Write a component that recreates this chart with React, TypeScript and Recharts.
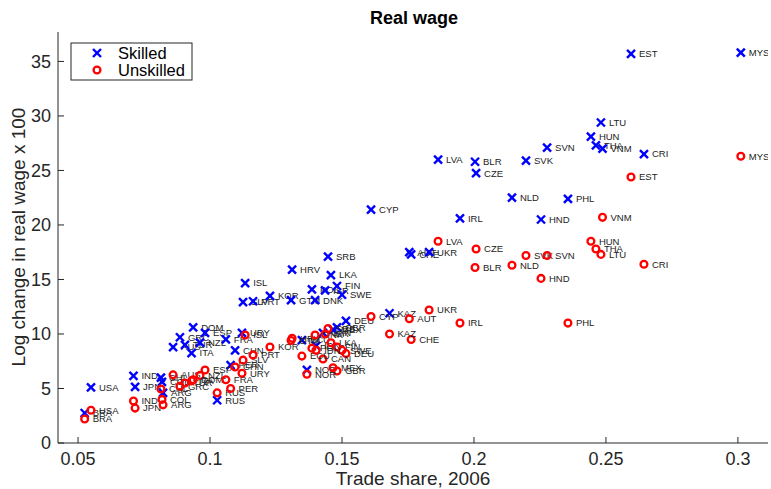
import { ScatterChart, Scatter, XAxis, YAxis, Customized } from "recharts";

const countries = [
  "USA", "BRA", "IND", "JPN", "CHL", "COL", "ARG", "AUS", "GRC", "TUR",
  "NZL", "DOM", "ITA", "ESP", "FRA", "RUS", "PER", "CHN", "URY", "ISL",
  "SLV", "PRT", "KOR", "GTM", "HRV", "DNK", "POL", "ISR", "SRB", "LKA",
  "FIN", "SWE", "DEU", "CAN", "MEX", "GBR", "ECU", "IDN", "NOR", "AUT",
  "CHE", "CYP", "KAZ", "UKR", "LVA", "BLR", "CZE", "IRL", "NLD", "SVK",
  "HND", "SVN", "PHL", "HUN", "THA", "LTU", "VNM", "EST", "CRI", "MYS",
];

const tradeShare = [
  0.0549, 0.0525, 0.071, 0.0716, 0.0814, 0.0818, 0.0822, 0.086, 0.0886, 0.0905,
  0.0962, 0.0936, 0.093, 0.0981, 0.106, 0.1027, 0.1078, 0.1095, 0.1121, 0.1133,
  0.1125, 0.1163, 0.1227, 0.1307, 0.1311, 0.1398, 0.1386, 0.1436, 0.1447, 0.1458,
  0.1481, 0.15, 0.1515, 0.1428, 0.1466, 0.1481, 0.1348, 0.1402, 0.1367, 0.1755,
  0.1762, 0.161, 0.168, 0.183, 0.1864, 0.2004, 0.2008, 0.1947, 0.2144, 0.2197,
  0.2254, 0.2277, 0.2356, 0.2443, 0.2462, 0.2481, 0.2487, 0.2595, 0.2644, 0.3011,
];

const skilledWage = [
  5.1, 2.75, 6.15, 5.15, 6.0, 5.6, 4.6, 8.8, 9.7, 9.0,
  9.2, 10.6, 8.25, 10.1, 9.5, 3.92, 7.15, 8.5, 10.1, 14.67,
  12.92, 13.0, 13.5, 13.1, 15.9, 13.1, 14.1, 14.0, 17.1, 15.4,
  14.4, 13.6, 11.2, 10.1, 10.4, 10.6, 9.44, 8.9, 6.7, 17.5,
  17.3, 21.4, 11.9, 17.5, 26.0, 25.8, 24.75, 20.6, 22.5, 25.9,
  20.5, 27.1, 22.4, 28.1, 27.3, 29.4, 27.0, 35.7, 26.5, 35.8,
];

const unskilledWage = [
  3.0, 2.2, 3.85, 3.2, 4.95, 4.0, 3.5, 6.25, 5.2, 5.5,
  6.2, 5.8, 5.7, 6.7, 5.8, 4.6, 5.0, 6.97, 6.4, 9.9,
  7.6, 8.07, 8.8, 9.4, 9.6, 9.9, 8.7, 10.0, 10.5, 9.2,
  8.8, 8.5, 8.2, 7.7, 6.9, 6.6, 7.97, 8.5, 6.3, 11.4,
  9.5, 11.6, 10.0, 12.2, 18.5, 16.1, 17.8, 11.0, 16.3, 17.2,
  15.1, 17.2, 11.0, 18.5, 17.8, 17.3, 20.7, 24.4, 16.4, 26.3,
];

const xTicks = [0.05, 0.1, 0.15, 0.2, 0.25, 0.3];
const yTicks = [0, 5, 10, 15, 20, 25, 30, 35];

const FONT = '"Liberation Sans", Arial, Helvetica, sans-serif';
const AXIS = "#262626";

const skilled = countries.map((code, i) => ({ code, share: tradeShare[i], wage: skilledWage[i] }));
const unskilled = countries.map((code, i) => ({ code, share: tradeShare[i], wage: unskilledWage[i] }));

function Cross({ cx, cy }: any) {
  const d = 4;
  return (
    <g stroke="#0000ff" strokeWidth={2.4}>
      <line x1={cx - d} y1={cy - d} x2={cx + d} y2={cy + d} />
      <line x1={cx - d} y1={cy + d} x2={cx + d} y2={cy - d} />
    </g>
  );
}

function Ring({ cx, cy }: any) {
  return <circle cx={cx} cy={cy} r={3.4} fill="none" stroke="#ff0000" strokeWidth={2.3} />;
}

function PointLabel({ cx, cy, text }: any) {
  return (
    <text x={cx + 8} y={cy} dy="0.35em" fontSize={9.5} fill="#222" fontFamily={FONT}>
      {text}
    </text>
  );
}

const skilledShape = (p: any) => (
  <g>
    <Cross cx={p.cx} cy={p.cy} />
    <PointLabel cx={p.cx} cy={p.cy} text={p.payload.code} />
  </g>
);

const unskilledShape = (p: any) => (
  <g>
    <Ring cx={p.cx} cy={p.cy} />
    <PointLabel cx={p.cx} cy={p.cy} text={p.payload.code} />
  </g>
);

function XTick({ x, y, payload }: any) {
  return (
    <g>
      <line x1={x} y1={y} x2={x} y2={y - 6} stroke={AXIS} />
      <text x={x} y={y + 22} textAnchor="middle" fontSize={18} fill={AXIS} fontFamily={FONT}>
        {payload.value}
      </text>
    </g>
  );
}

function YTick({ x, y, payload }: any) {
  return (
    <g>
      <line x1={x} y1={y} x2={x + 6} y2={y} stroke={AXIS} />
      <text x={x - 7} y={y} dy="0.35em" textAnchor="end" fontSize={18} fill={AXIS} fontFamily={FONT}>
        {payload.value}
      </text>
    </g>
  );
}

function Overlay() {
  return (
    <g fontFamily={FONT}>
      <text x={414} y={24} textAnchor="middle" fontSize={18} fontWeight="bold" fill="#000">
        Real wage
      </text>
      <text
        x={18}
        y={237}
        transform="rotate(-90, 18, 237)"
        textAnchor="middle"
        dy="0.35em"
        fontSize={19}
        fill={AXIS}
      >
        Log change in real wage x 100
      </text>
      <text x={413} y={485} textAnchor="middle" fontSize={19} fill={AXIS}>
        Trade share, 2006
      </text>
      <rect x={71} y={43} width={121} height={37} fill="#fff" stroke={AXIS} strokeWidth={1} />
      <Cross cx={97} cy={53} />
      <text x={118} y={53} dy="0.35em" fontSize={16.5} fill="#000">
        Skilled
      </text>
      <Ring cx={97} cy={70} />
      <text x={118} y={70} dy="0.35em" fontSize={16.5} fill="#000">
        Unskilled
      </text>
    </g>
  );
}

export default function App() {
  return (
    <div style={{ position: "absolute", left: 0, top: 0, background: "#fff" }}>
      <ScatterChart width={771} height={489} margin={{ top: 32, right: 3, bottom: 0, left: 0 }}>
        <XAxis
          type="number"
          dataKey="share"
          domain={[0.0424, 0.3114]}
          ticks={xTicks}
          interval={0}
          allowDataOverflow
          height={46}
          stroke={AXIS}
          tickLine={false}
          tickSize={0}
          tickMargin={0}
          tick={<XTick />}
        />
        <YAxis
          type="number"
          dataKey="wage"
          domain={[0, 37.7]}
          ticks={yTicks}
          interval={0}
          allowDataOverflow
          width={58}
          stroke={AXIS}
          tickLine={false}
          tickSize={0}
          tickMargin={0}
          tick={<YTick />}
        />
        <Scatter data={skilled} shape={skilledShape} isAnimationActive={false} />
        <Scatter data={unskilled} shape={unskilledShape} isAnimationActive={false} />
        <Customized component={<Overlay />} />
      </ScatterChart>
    </div>
  );
}
